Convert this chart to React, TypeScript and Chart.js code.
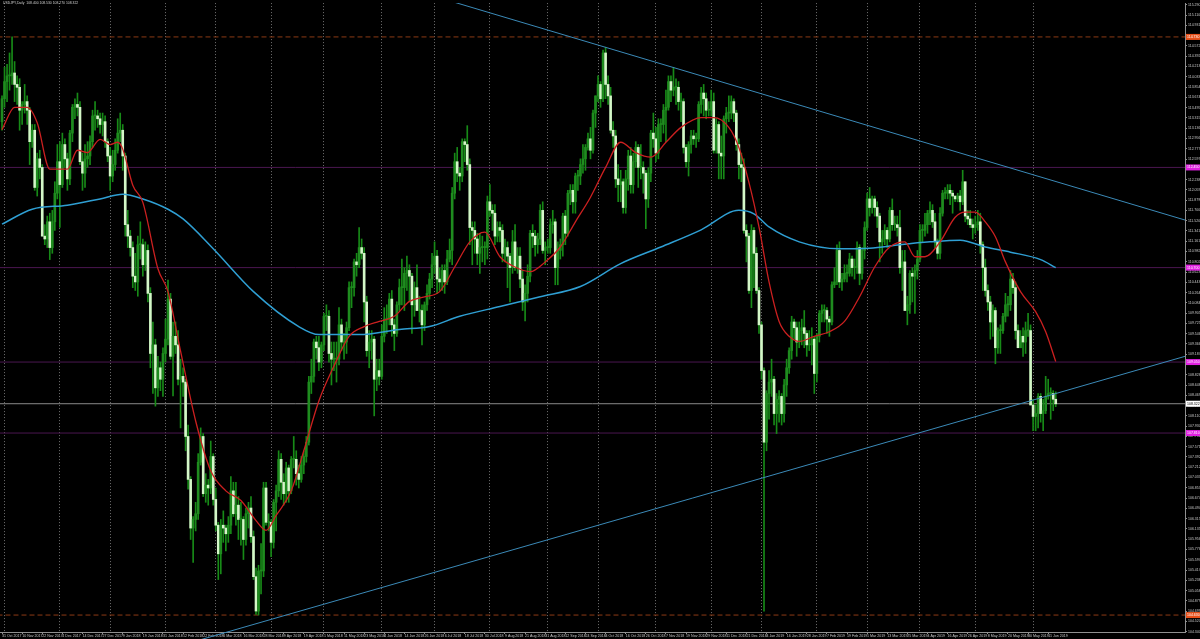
import React, { useEffect, useRef } from 'react';
import { Chart, registerables } from 'chart.js';
Chart.register(...registerables);

const TITLE = 'USDJPY,Daily  108.400 108.530 108.270 108.322';

// Daily bars [open, high, low, close], one array per month
const oct2017 = [[113.25,113.70,113.10,113.65]];
const nov2017 = [
  [113.65,114.20,113.50,113.95],[113.95,114.25,113.60,114.05],[114.05,114.45,113.80,114.05],[114.05,114.73,113.90,114.10],
  [114.10,114.30,113.60,113.90],[113.90,114.05,113.55,113.85],[113.85,114.00,113.10,113.45],[113.45,113.60,113.20,113.55],
  [113.55,113.90,113.40,113.60],[113.60,113.70,113.20,113.45],[113.45,113.50,112.50,112.90],[112.90,113.20,112.80,113.10],
  [113.10,113.20,112.05,112.10],[112.10,112.70,111.95,112.60],[112.60,112.75,112.25,112.45],[112.45,112.50,111.25,111.25],
  [111.25,111.45,111.10,111.20],[111.20,111.60,111.05,111.50],[111.50,111.65,110.84,111.05],[111.05,111.70,110.95,111.50],
  [111.50,112.20,111.35,112.00],[112.00,112.85,111.90,112.55]];
const dec2017 = [
  [112.55,112.90,111.40,112.15],[112.15,113.05,112.10,112.85],[112.85,112.95,112.45,112.60],[112.60,112.70,112.05,112.25],
  [112.25,113.10,112.15,113.05],[113.05,113.55,112.90,113.50],[113.50,113.65,113.30,113.55],[113.55,113.75,113.35,113.50],
  [113.50,113.60,112.50,112.55],[112.55,112.70,112.05,112.35],[112.35,112.85,112.10,112.60],[112.60,112.90,112.45,112.65],
  [112.65,113.00,112.50,112.90],[112.90,113.45,112.80,113.35],[113.35,113.60,113.10,113.35],[113.35,113.45,113.15,113.30],
  [113.30,113.40,113.05,113.20],[113.20,113.40,113.00,113.25],[113.25,113.35,112.80,112.90],[112.90,112.95,112.55,112.65]];
const jan2018 = [
  [112.65,112.80,112.05,112.30],[112.30,112.75,112.20,112.50],[112.50,112.95,112.40,112.75],[112.75,113.30,112.70,113.05],
  [113.05,113.40,112.90,113.10],[113.10,113.20,112.40,112.65],[112.65,112.70,111.25,111.45],[111.45,111.70,111.05,111.25],
  [111.25,111.35,110.90,111.05],[111.05,111.15,110.35,110.55],[110.55,110.95,110.30,110.45],[110.45,111.25,110.20,111.10],
  [111.10,111.50,110.85,111.10],[111.10,111.20,110.55,110.75],[110.75,111.15,110.65,111.00],[111.00,111.10,110.10,110.25],
  [110.25,110.35,108.95,109.20],[109.20,109.75,108.50,109.35],[109.35,109.45,108.28,108.60],[108.60,109.15,108.45,108.95],
  [108.95,109.05,108.55,108.75],[108.75,109.30,108.45,109.20]];
const feb2018 = [
  [109.20,109.80,109.05,109.45],[109.45,110.48,109.35,110.15],[110.15,110.25,109.10,109.15],[109.15,109.75,108.46,109.50],
  [109.50,109.75,109.20,109.35],[109.35,109.60,108.65,108.75],[108.75,109.10,107.90,108.80],[108.80,108.95,108.45,108.70],
  [108.70,108.75,107.50,107.75],[107.75,107.95,106.83,107.00],[107.00,107.05,105.95,106.15],[106.15,106.35,105.55,106.30],
  [106.30,106.60,106.10,106.40],[106.40,107.45,106.30,107.30],[107.30,107.90,107.25,107.75],[107.75,107.80,106.70,106.75],
  [106.75,107.10,106.60,106.90],[106.90,107.00,106.55,106.85],[106.85,107.67,106.75,107.40],[107.40,107.45,106.55,106.65]];
const mar2018 = [
  [106.65,106.85,106.10,106.20],[106.20,106.25,105.25,105.70],[105.70,106.30,105.35,106.20],[106.20,106.45,105.90,106.15],
  [106.15,106.20,105.75,106.05],[106.05,106.35,105.90,106.20],[106.20,107.05,106.05,106.80],[106.80,106.95,106.35,106.40],
  [106.40,106.95,106.20,106.55],[106.55,106.70,105.95,106.30],[106.30,106.60,105.85,106.30],[106.30,106.35,105.60,105.95],
  [105.95,106.50,105.85,106.40],[106.40,106.60,106.15,106.50],[106.50,106.70,105.90,106.00],[106.00,106.10,105.25,105.30],
  [105.30,105.45,104.64,104.70],[104.70,105.50,104.63,105.40],[105.40,105.88,105.00,105.40],[105.40,106.95,105.30,106.85],
  [106.85,106.95,106.20,106.25],[106.25,106.40,106.10,106.25]];
const apr2018 = [
  [106.25,106.30,105.65,105.90],[105.90,106.65,105.80,106.60],[106.60,106.90,106.10,106.80],[106.80,107.50,106.70,107.35],
  [107.35,107.45,106.65,106.95],[106.95,107.10,106.55,106.75],[106.75,107.30,106.60,107.20],[107.20,107.25,106.60,106.80],
  [106.80,107.40,106.75,107.35],[107.35,107.75,107.20,107.35],[107.35,107.50,106.90,107.10],[107.10,107.25,106.85,107.00],
  [107.00,107.40,106.95,107.25],[107.25,107.50,107.10,107.40],[107.40,107.75,107.30,107.65],[107.65,108.80,107.60,108.70],
  [108.70,109.10,108.50,108.80],[108.80,109.45,108.70,109.40],[109.40,109.50,109.10,109.30],[109.30,109.50,108.90,109.05],
  [109.05,109.40,108.95,109.35]];
const may2018 = [
  [109.35,109.90,109.25,109.85],[109.85,110.05,109.60,109.85],[109.85,109.95,109.05,109.20],[109.20,109.40,108.65,109.10],
  [109.10,109.40,108.90,109.10],[109.10,109.40,108.70,109.10],[109.10,110.00,109.00,109.70],[109.70,109.80,109.25,109.40],
  [109.40,109.55,109.10,109.40],[109.40,109.75,109.20,109.65],[109.65,110.45,109.60,110.35],[110.35,110.45,110.00,110.35],
  [110.35,110.85,110.20,110.80],[110.80,110.95,110.55,110.75],[110.75,111.40,110.70,111.05],[111.05,111.20,110.85,110.95],
  [110.95,111.05,109.75,110.10],[110.10,110.20,109.15,109.25],[109.25,109.60,108.95,109.40],[109.40,109.60,109.10,109.45],
  [109.45,109.50,108.11,108.75],[108.75,109.10,108.55,108.90],[108.90,109.10,108.65,108.80]];
const jun2018 = [
  [108.80,109.70,108.75,109.50],[109.50,110.00,109.40,109.80],[109.80,110.05,109.55,109.80],[109.80,110.25,109.70,110.15],
  [110.15,110.30,109.50,109.70],[109.70,109.80,109.25,109.55],[109.55,110.10,109.50,110.05],[110.05,110.50,109.95,110.35],
  [110.35,110.85,110.05,110.35],[110.35,110.70,109.95,110.60],[110.60,110.90,110.30,110.65],[110.65,110.75,110.10,110.55],
  [110.55,110.60,109.55,110.05],[110.05,110.45,109.85,110.35],[110.35,110.75,109.95,109.95],[109.95,110.20,109.75,109.95],
  [109.95,110.05,109.35,109.70],[109.70,110.10,109.60,110.05],[110.05,110.40,109.95,110.25],[110.25,110.60,110.15,110.50],
  [110.50,110.95,110.35,110.75]];
const jul2018 = [
  [110.75,111.15,110.60,110.90],[110.90,111.00,110.25,110.50],[110.50,110.70,110.30,110.45],[110.45,110.75,110.30,110.65],
  [110.65,110.75,110.25,110.45],[110.45,111.00,110.40,110.85],[110.85,111.20,110.80,111.00],[111.00,112.10,110.75,112.00],
  [112.00,112.70,111.90,112.55],[112.55,112.80,112.20,112.35],[112.35,112.45,112.05,112.30],[112.30,112.95,112.20,112.90],
  [112.90,112.95,112.55,112.85],[112.85,113.18,112.40,112.50],[112.50,112.60,111.10,111.40],[111.40,111.50,110.75,111.35],
  [111.35,111.50,110.95,111.20],[111.20,111.30,110.75,110.95],[110.95,111.30,110.60,111.05],[111.05,111.25,110.80,111.05],
  [111.05,111.15,110.75,111.05],[111.05,111.95,110.85,111.85]];
const aug2018 = [
  [111.85,112.15,111.60,111.70],[111.70,111.80,111.35,111.65],[111.65,111.80,111.10,111.25],[111.25,111.50,111.15,111.40],
  [111.40,111.50,111.15,111.35],[111.35,111.45,110.80,110.95],[110.95,111.20,110.80,111.05],[111.05,111.15,110.35,110.90],
  [110.90,110.95,110.10,110.70],[110.70,111.35,110.60,111.15],[111.15,111.45,110.65,110.70],[110.70,111.05,110.60,110.90],
  [110.90,111.05,110.35,110.50],[110.50,110.65,109.95,110.10],[110.10,110.40,109.77,110.25],[110.25,110.75,110.10,110.55],
  [110.55,111.35,110.45,111.30],[111.30,111.45,111.05,111.25],[111.25,111.35,110.90,111.10],[111.10,111.30,110.95,111.20],
  [111.20,111.80,111.10,111.70],[111.70,111.85,110.95,111.00],[111.00,111.15,110.75,111.05]];
const sep2018 = [
  [111.05,111.20,110.95,111.05],[111.05,111.55,110.95,111.45],[111.45,111.70,111.30,111.50],[111.50,111.55,110.40,110.70],
  [110.70,111.15,110.40,111.00],[111.00,111.20,110.85,111.10],[111.10,111.65,110.90,111.60],[111.60,111.70,111.10,111.30],
  [111.30,112.05,111.25,112.00],[112.00,112.15,111.80,112.05],[112.05,112.15,111.65,111.85],[111.85,112.35,111.65,112.30],
  [112.30,112.40,112.05,112.30],[112.30,112.60,112.15,112.50],[112.50,112.85,112.35,112.60],[112.60,112.85,112.40,112.80],
  [112.80,113.05,112.75,112.95],[112.95,113.15,112.60,112.75],[112.75,113.45,112.70,113.40],[113.40,113.70,113.15,113.70]];
const oct2018 = [
  [113.70,114.05,113.60,113.90],[113.90,113.95,113.50,113.65],[113.65,114.50,113.60,114.45],[114.45,114.55,113.65,113.90],
  [113.90,114.05,113.55,113.70],[113.70,113.85,113.05,113.10],[113.10,113.25,112.80,113.00],[113.00,113.10,112.10,112.25],
  [112.25,112.50,111.85,112.15],[112.15,112.40,111.85,112.20],[112.20,112.25,111.65,111.75],[111.75,112.40,111.65,112.25],
  [112.25,112.75,112.05,112.65],[112.65,112.80,112.00,112.15],[112.15,112.70,112.00,112.55],[112.55,112.90,112.45,112.80],
  [112.80,112.85,112.10,112.45],[112.45,112.85,112.25,112.45],[112.45,112.55,112.00,112.35],[112.35,112.40,111.38,111.90],
  [111.90,112.45,111.75,112.35],[112.35,113.10,112.20,113.05],[113.05,113.40,112.80,112.95]];
const nov2018 = [
  [112.95,113.15,112.55,112.70],[112.70,113.30,112.60,113.20],[113.20,113.30,112.90,113.20],[113.20,113.55,113.05,113.45],
  [113.45,113.80,112.90,113.50],[113.50,114.05,113.45,113.95],[113.95,114.05,113.60,113.80],[113.80,114.20,113.70,113.85],
  [113.85,114.00,113.55,113.85],[113.85,113.95,113.45,113.60],[113.60,113.75,113.25,113.60],[113.60,113.65,112.70,112.80],
  [112.80,112.85,112.45,112.55],[112.55,112.90,112.30,112.85],[112.85,113.10,112.70,113.00],[113.00,113.10,112.85,112.95],
  [112.95,113.05,112.80,112.95],[112.95,113.60,112.90,113.55],[113.55,113.85,113.40,113.75],[113.75,113.90,113.35,113.65],
  [113.65,113.75,113.30,113.45],[113.45,113.60,113.35,113.45]];
const dec2018 = [
  [113.45,113.80,113.35,113.60],[113.60,113.75,112.70,112.75],[112.75,113.30,112.70,113.20],[113.20,113.25,112.25,112.70],
  [112.70,113.00,112.25,112.65],[112.65,113.35,112.25,113.30],[113.30,113.50,113.05,113.40],[113.40,113.70,113.25,113.40],
  [113.40,113.70,113.30,113.60],[113.60,113.65,113.25,113.40],[113.40,113.45,112.75,112.85],[112.85,112.95,112.25,112.50],
  [112.50,112.70,112.20,112.45],[112.45,112.60,111.30,111.35],[111.35,111.45,110.80,111.25],[111.25,111.30,110.25,110.30],
  [110.30,111.45,110.00,111.35],[111.35,111.40,110.35,110.95],[110.95,111.05,110.25,110.30],[110.30,110.35,109.55,109.70]];
const jan2019 = [
  [109.70,109.75,108.75,108.90],[108.90,108.95,104.70,107.65],[107.65,108.55,107.50,108.50],[108.50,108.90,108.05,108.70],
  [108.70,109.10,108.45,108.75],[108.75,108.80,107.95,108.15],[108.15,108.50,107.80,108.40],[108.40,108.55,108.00,108.45],
  [108.45,108.50,107.95,108.15],[108.15,108.75,108.00,108.65],[108.65,109.10,108.45,108.95],[108.95,109.30,108.85,109.25],
  [109.25,109.85,109.10,109.75],[109.75,109.80,109.45,109.65],[109.65,109.75,109.15,109.40],[109.40,109.75,109.30,109.60],
  [109.60,109.80,109.35,109.65],[109.65,109.95,109.30,109.55],[109.55,109.60,109.15,109.35],[109.35,109.60,109.25,109.35],
  [109.35,109.65,109.00,109.45],[109.45,109.50,108.50,108.85]];
const feb2019 = [
  [108.85,109.55,108.70,109.50],[109.50,109.95,109.40,109.90],[109.90,110.05,109.75,109.95],[109.95,110.05,109.75,109.95],
  [109.95,110.00,109.55,109.80],[109.80,109.85,109.50,109.75],[109.75,110.45,109.70,110.40],[110.40,110.70,110.35,110.45],
  [110.45,111.10,110.40,111.00],[111.00,111.15,110.35,110.45],[110.45,110.60,110.30,110.50],[110.50,110.75,110.45,110.60],
  [110.60,110.75,110.45,110.60],[110.60,110.95,110.55,110.85],[110.85,110.90,110.55,110.70],[110.70,110.85,110.50,110.70],
  [110.70,111.15,110.60,111.05],[111.05,111.10,110.40,110.60],[110.60,111.05,110.50,111.00],[111.00,111.50,110.85,111.40]];
const mar2019 = [
  [111.40,112.00,111.35,111.90],[111.90,112.10,111.60,111.75],[111.75,111.95,111.65,111.90],[111.90,111.95,111.60,111.75],
  [111.75,111.85,111.40,111.60],[111.60,111.65,110.80,111.15],[111.15,111.35,110.95,111.20],[111.20,111.45,111.10,111.35],
  [111.35,111.40,111.05,111.20],[111.20,111.75,111.15,111.70],[111.70,111.90,111.35,111.45],[111.45,111.60,111.35,111.45],
  [111.45,111.60,111.25,111.40],[111.40,111.70,110.60,110.70],[110.70,111.00,110.30,110.80],[110.80,111.00,109.95,109.95],
  [109.95,110.20,109.70,110.05],[110.05,110.65,109.90,110.60],[110.60,110.70,110.10,110.55],[110.55,110.75,109.90,110.65],
  [110.65,111.00,110.50,110.85]];
const apr2019 = [
  [110.85,111.45,110.80,111.35],[111.35,111.45,111.15,111.35],[111.35,111.65,111.25,111.45],[111.45,111.70,111.30,111.65],
  [111.65,111.85,111.45,111.70],[111.70,111.80,111.40,111.50],[111.50,111.65,111.05,111.15],[111.15,111.20,110.85,110.95],
  [110.95,111.75,110.85,111.65],[111.65,112.05,111.60,112.00],[112.00,112.10,111.90,112.00],[112.00,112.15,111.90,112.05],
  [112.05,112.15,111.80,112.00],[112.00,112.05,111.65,111.95],[111.95,111.95,111.85,111.90],[111.90,112.00,111.85,111.95],
  [111.95,112.05,111.70,111.85],[111.85,112.40,111.80,112.20],[112.20,112.20,111.50,111.60],[111.60,111.70,111.45,111.55],
  [111.55,111.70,111.40,111.45],[111.45,111.55,111.20,111.40]];
const may2019 = [
  [111.40,111.60,111.30,111.45],[111.45,111.70,111.35,111.50],[111.50,111.65,110.95,111.10],[111.10,111.15,110.30,110.70],
  [110.70,110.85,110.20,110.30],[110.30,110.40,109.95,110.10],[110.10,110.20,109.45,109.75],[109.75,110.05,109.50,109.95],
  [109.95,110.00,109.02,109.30],[109.30,109.65,109.20,109.60],[109.60,109.70,109.20,109.60],[109.60,109.90,109.55,109.85],
  [109.85,110.25,109.75,110.05],[110.05,110.20,109.85,110.05],[110.05,110.65,109.95,110.50],[110.50,110.60,110.25,110.35],
  [110.35,110.45,109.45,109.60],[109.60,109.70,109.30,109.30],[109.30,109.60,109.30,109.50],[109.50,109.65,109.15,109.40],
  [109.40,109.75,109.20,109.60],[109.60,109.90,109.50,109.60],[109.60,109.70,108.30,108.30]];
const jun2019 = [
  [108.30,108.40,107.85,108.10],[108.10,108.30,107.85,108.15],[108.15,108.50,107.90,108.45],[108.45,108.50,108.00,108.15],
  [108.15,108.40,107.85,108.20],[108.20,108.80,108.15,108.45],[108.45,108.75,108.40,108.50],[108.50,108.60,108.05,108.50],
  [108.50,108.55,108.20,108.40],[108.40,108.53,108.27,108.32]];

// Date labels printed every LABEL_STEP bars
const LABEL_STEP = 8;
const xLabels = [
  '31 Oct 2017','10 Nov 2017','22 Nov 2017','4 Dec 2017','14 Dec 2017','27 Dec 2017','9 Jan 2018','19 Jan 2018',
  '31 Jan 2018','12 Feb 2018','22 Feb 2018','6 Mar 2018','16 Mar 2018','28 Mar 2018','9 Apr 2018','19 Apr 2018',
  '1 May 2018','11 May 2018','23 May 2018','4 Jun 2018','14 Jun 2018','26 Jun 2018','6 Jul 2018','18 Jul 2018',
  '30 Jul 2018','9 Aug 2018','21 Aug 2018','31 Aug 2018','12 Sep 2018','24 Sep 2018','4 Oct 2018','16 Oct 2018',
  '26 Oct 2018','7 Nov 2018','19 Nov 2018','29 Nov 2018','11 Dec 2018','21 Dec 2018','4 Jan 2019','16 Jan 2019',
  '28 Jan 2019','7 Feb 2019','19 Feb 2019','1 Mar 2019','13 Mar 2019','25 Mar 2019','4 Apr 2019','16 Apr 2019',
  '26 Apr 2019','8 May 2019','20 May 2019','30 May 2019','11 Jun 2019'];
// bar index of the first bar of each month (vertical grid)
const monthStarts = [1,23,43,65,85,107,128,151,172,194,217,237,260,282,302,324,344,365,387,410];

const yTicks = [
  115.290,115.110,114.931,114.751,114.572,114.392,114.213,114.033,113.854,113.674,113.495,113.315,113.136,112.956,
  112.777,112.597,112.418,112.238,112.059,111.879,111.700,111.520,111.341,111.161,110.982,110.802,110.623,110.443,
  110.264,110.084,109.905,109.725,109.546,109.366,109.187,109.007,108.828,108.648,108.469,108.289,108.110,107.930,
  107.751,107.571,107.392,107.212,107.033,106.853,106.674,106.494,106.315,106.135,105.956,105.776,105.597,105.417,
  105.238,105.058,104.879,104.699,104.520,104.340];

// Moving averages: [bar index, price]
const maFast = [
  [0,113.11],[5,113.50],[10,113.50],[14,113.23],[19,112.42],[26,112.42],[30,112.75],[34,112.71],[39,112.94],[43,112.85],
  [46,112.89],[48,112.77],[52,112.14],[56,111.84],[62,110.68],[66,110.28],[71,109.24],[77,108.02],[83,107.15],[89,106.80],
  [95,106.63],[101,106.28],[105,106.11],[109,106.37],[115,106.80],[120,107.50],[126,108.37],[132,108.98],[138,109.50],
  [144,109.67],[150,109.76],[156,109.85],[162,110.11],[168,110.19],[174,110.28],[180,110.71],[186,111.15],[192,111.32],
  [198,110.89],[204,110.71],[210,110.63],[216,110.80],[222,111.06],[228,111.50],[234,111.93],[240,112.45],[246,112.89],
  [252,112.71],[258,112.63],[264,112.89],[270,113.15],[278,113.32],[283,113.32],[289,113.15],[293,112.80],[297,112.19],
  [301,111.41],[305,110.45],[309,109.76],[313,109.50],[317,109.41],[323,109.50],[329,109.58],[335,109.76],[341,110.19],
  [347,110.71],[353,111.06],[359,111.15],[363,110.89],[367,110.89],[373,111.15],[379,111.58],[383,111.67],[387,111.67],
  [391,111.50],[395,111.24],[399,110.80],[405,110.28],[411,109.93],[415,109.58],[419,109.06]];
const maSlow = [
  [0,111.46],[12,111.72],[26,111.79],[39,111.90],[48,111.98],[56,111.90],[66,111.72],[72,111.55],[84,111.03],[100,110.28],
  [118,109.67],[126,109.53],[142,109.53],[158,109.62],[170,109.67],[182,109.85],[198,110.02],[214,110.19],[230,110.37],
  [246,110.77],[262,111.06],[278,111.36],[293,111.70],[299,111.64],[305,111.41],[317,111.15],[333,111.03],[345,111.04],
  [357,111.10],[369,111.15],[381,111.18],[391,111.06],[401,110.97],[413,110.84],[419,110.70]];

// Trend lines: [bar index, price] end points
const upperTrend = [[175,115.40],[472,111.51]];
const lowerTrend = [[60,103.96],[472,109.17]];

const orangeLevels = [114.73, 104.63];
const purpleLevels = [112.45, 110.70, 109.05, 107.81];
const lastPrice = 108.322;

const X_MIN = -0.8;
const X_MAX = 470.4;
const Y_MIN = 104.334;
const Y_MAX = 115.321;

const FONT = '"Liberation Sans", Arial, sans-serif';

const bars = [
  ...oct2017, ...nov2017, ...dec2017, ...jan2018, ...feb2018, ...mar2018, ...apr2018, ...may2018, ...jun2018,
  ...jul2018, ...aug2018, ...sep2018, ...oct2018, ...nov2018, ...dec2018, ...jan2019, ...feb2019, ...mar2019,
  ...apr2019, ...may2019, ...jun2019];

const levelLabels = {
  id: 'levelLabels',
  afterDraw(chart: any) {
    const { ctx, chartArea, scales } = chart;
    const y = scales.y;
    const draw = (v: number, bg: string, fg: string) => {
      const py = y.getPixelForValue(v);
      ctx.save();
      ctx.fillStyle = bg;
      ctx.fillRect(chartArea.right + 1, py - 3, 14, 6);
      ctx.fillStyle = fg;
      ctx.font = `3.5px ${FONT}`;
      ctx.textBaseline = 'middle';
      ctx.fillText(v.toFixed(3), chartArea.right + 2, py);
      ctx.restore();
    };
    orangeLevels.forEach(v => draw(v, '#e8501a', '#ffffff'));
    purpleLevels.forEach(v => draw(v, '#e020e0', '#ffffff'));
    draw(lastPrice, '#ffffff', '#000000');
  },
};

function hLine(v: number, color: string, dash: number[], order: number) {
  return {
    type: 'line' as const,
    data: [{ x: X_MIN - 1, y: v }, { x: X_MAX + 1, y: v }],
    borderColor: color,
    borderWidth: 1,
    borderDash: dash,
    pointRadius: 0,
    clip: 0,
    order,
  };
}

export default function App() {
  const ref = useRef<HTMLCanvasElement>(null);
  useEffect(() => {
    document.body.style.margin = '0';
    document.body.style.background = '#000';
    const wickData = bars.map((b, i) => ({ x: i, y: [b[2], b[1]] }));
    const bodyData = bars.map((b, i) => ({ x: i, y: [Math.min(b[0], b[3]), Math.max(b[0], b[3])] }));
    const bodyColors = bars.map(b => (b[3] < b[0] ? '#d4f7c8' : '#1f8c1f'));

    const datasets: any[] = [
      ...orangeLevels.map(v => hLine(v, '#8c3a14', [5, 3], 20)),
      ...purpleLevels.map(v => hLine(v, '#4a1650', [], 20)),
      hLine(lastPrice, '#8a8a8a', [], 19),
      {
        type: 'bar', data: wickData, backgroundColor: '#178a17', barThickness: 1, grouped: false, order: 10,
      },
      {
        type: 'bar', data: bodyData, backgroundColor: bodyColors, barThickness: 2, grouped: false, minBarLength: 1, order: 9,
      },
      {
        type: 'line', data: upperTrend.map(p => ({ x: p[0], y: p[1] })), borderColor: '#3b8ab8', borderWidth: 1,
        pointRadius: 0, clip: 0, order: 3,
      },
      {
        type: 'line', data: lowerTrend.map(p => ({ x: p[0], y: p[1] })), borderColor: '#3b8ab8', borderWidth: 1,
        pointRadius: 0, clip: { left: 0, top: 0, right: 0, bottom: 8 }, order: 3,
      },
      {
        type: 'line', data: maSlow.map(p => ({ x: p[0], y: p[1] })), borderColor: '#2f9fd3', borderWidth: 1.5,
        pointRadius: 0, cubicInterpolationMode: 'monotone', clip: 0, order: 2,
      },
      {
        type: 'line', data: maFast.map(p => ({ x: p[0], y: p[1] })), borderColor: '#cc2020', borderWidth: 1.3,
        pointRadius: 0, cubicInterpolationMode: 'monotone', clip: 0, order: 1,
      },
    ];

    const chart = new Chart(ref.current!, {
      type: 'bar',
      data: { datasets },
      plugins: [levelLabels],
      options: {
        animation: false,
        responsive: false,
        layout: { padding: 0 },
        plugins: { legend: { display: false }, tooltip: { enabled: false }, title: { display: false } },
        scales: {
          x: {
            type: 'linear', position: 'bottom', min: X_MIN, max: X_MAX, offset: false,
            afterBuildTicks: (s: any) => { s.ticks = xLabels.map((_, k) => ({ value: k * LABEL_STEP })); },
            afterFit: (s: any) => { s.height = 7; },
            ticks: {
              autoSkip: false, maxRotation: 0, minRotation: 0, align: 'start', padding: 0,
              color: '#c8c8c8', font: { size: 3.6, family: FONT },
              callback: (v: any) => xLabels[Math.round(Number(v) / LABEL_STEP)] ?? '',
            },
            grid: { offset: false, drawOnChartArea: false, drawTicks: true, tickLength: 2, tickColor: '#909090' },
            border: { display: true, color: '#909090' },
          },
          x2: {
            type: 'linear', position: 'bottom', min: X_MIN, max: X_MAX, offset: false,
            afterBuildTicks: (s: any) => { s.ticks = monthStarts.map(v => ({ value: v })); },
            afterFit: (s: any) => { s.height = 0; },
            ticks: { display: false },
            grid: { offset: false, color: 'rgba(150,150,150,0.75)', lineWidth: 1, drawTicks: false, borderDash: [1, 2] },
            border: { display: false, dash: [1, 2] },
          },
          y: {
            type: 'linear', position: 'right', min: Y_MIN, max: Y_MAX, beginAtZero: false,
            afterBuildTicks: (s: any) => { s.ticks = yTicks.map(v => ({ value: v })); },
            afterFit: (s: any) => { s.width = 15; },
            ticks: {
              autoSkip: false, padding: 1, color: '#c8c8c8', font: { size: 3.5, family: FONT },
              callback: (v: any) => Number(v).toFixed(3),
            },
            grid: { drawOnChartArea: false, drawTicks: true, tickLength: 2, tickColor: '#909090' },
            border: { display: true, color: '#909090' },
          },
        },
      } as any,
    });
    return () => chart.destroy();
  }, []);

  return (
    <div style={{ position: 'relative', width: 1200, height: 639, background: '#000', overflow: 'hidden' }}>
      <canvas ref={ref} width={1200} height={639} style={{ display: 'block' }} />
      <div
        style={{
          position: 'absolute', left: 3, top: 1, fontFamily: FONT, fontSize: '3.4px', lineHeight: '4px',
          color: '#d0d0d0', whiteSpace: 'pre',
        }}
      >
        {TITLE}
      </div>
    </div>
  );
}
